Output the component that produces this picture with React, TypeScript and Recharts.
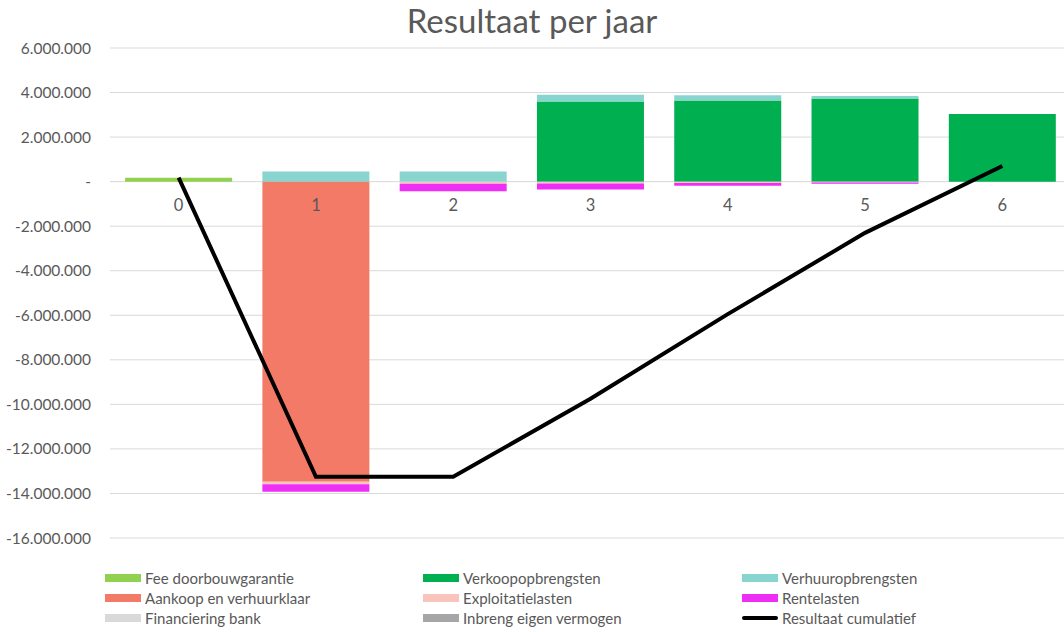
import React from 'react';
import { ComposedChart, Bar, Line, XAxis, YAxis, CartesianGrid, Legend, LabelList } from 'recharts';

const years = ['0', '1', '2', '3', '4', '5', '6'];
const fee = [180000, 0, 0, 0, 0, 0, 0];
const verkoop = [0, 0, 0, 3600000, 3640000, 3730000, 3040000];
const verhuur = [0, 450000, 450000, 300000, 240000, 120000, 0];
const aankoop = [0, -13470000, 0, 0, 0, 0, 0];
const exploitatie = [0, -120000, -100000, -80000, -60000, -40000, 0];
const rente = [0, -330000, -330000, -270000, -120000, -50000, 0];
const financiering = [0, 0, 0, 0, 0, 0, 0];
const inbreng = [0, 0, 0, 0, 0, 0, 0];
const cumulatief = [180000, -13250000, -13250000, -9750000, -5950000, -2300000, 700000];
const yTicks = [6000000, 4000000, 2000000, 0, -2000000, -4000000, -6000000, -8000000, -10000000, -12000000, -14000000, -16000000];

const seriesNames = [
  'Fee doorbouwgarantie', 'Verkoopopbrengsten', 'Verhuuropbrengsten',
  'Aankoop en verhuurklaar', 'Exploitatielasten', 'Rentelasten',
  'Financiering bank', 'Inbreng eigen vermogen', 'Resultaat cumulatief',
];
const seriesColors = ['#92D050', '#00B050', '#88D4CF', '#F47A68', '#F9C4BB', '#EE2DF7', '#D9D9D9', '#A6A6A6', '#000000'];

const data = years.map((y, i) => ({
  year: y,
  fee: fee[i],
  verkoop: verkoop[i],
  verhuur: verhuur[i],
  aankoop: aankoop[i],
  exploitatie: exploitatie[i],
  rente: rente[i],
  financiering: financiering[i],
  inbreng: inbreng[i],
  cumulatief: cumulatief[i],
  zero: 0,
}));

const FONT = 'Lato, "Open Sans", sans-serif';

const fmt = (v: number) => {
  if (v === 0) return '-';
  const s = Math.abs(v).toString().replace(/\B(?=(\d{3})+(?!\d))/g, '.');
  return (v < 0 ? '-' : '') + s;
};

const colLeft = [105, 423, 742];

const renderLegend = (props: any) => {
  const payload = (props.payload || []).filter((p: any) => seriesNames.includes(p.value));
  return (
    <div style={{ position: 'relative', width: 1064, height: 0, fontFamily: FONT }}>
      {payload.map((p: any) => {
        const idx = seriesNames.indexOf(p.value);
        const col = idx % 3;
        const row = Math.floor(idx / 3);
        const isLine = p.type === 'line' || idx === 8;
        return (
          <div
            key={p.value}
            style={{
              position: 'absolute',
              left: colLeft[col],
              top: row * 20,
              display: 'flex',
              alignItems: 'center',
              height: 20,
              whiteSpace: 'nowrap',
            }}
          >
            <div
              style={{
                width: 36,
                height: isLine ? 4 : 8,
                borderRadius: isLine ? 2 : 0,
                background: seriesColors[idx],
                marginRight: 4,
              }}
            />
            <span style={{ fontSize: 15, color: '#595959' }}>{p.value}</span>
          </div>
        );
      })}
    </div>
  );
};

export default function App() {
  return (
    <div style={{ position: 'absolute', left: 0, top: 0, width: 1064, height: 632, background: '#fff', fontFamily: FONT, overflow: 'hidden' }}>
      <div
        style={{
          position: 'absolute',
          left: 0,
          top: 0,
          width: 1064,
          textAlign: 'center',
          fontSize: 33,
          color: '#595959',
        }}
      >
        Resultaat per jaar
      </div>
      <ComposedChart
        width={1064}
        height={632}
        data={data}
        stackOffset="sign"
        margin={{ top: 48, right: -7, left: 0, bottom: 94 }}
        barCategoryGap="11%"
      >
        <CartesianGrid vertical={false} stroke="#D9D9D9" strokeWidth={1} />
        <XAxis dataKey="year" hide />
        <YAxis
          domain={[-16000000, 6000000]}
          ticks={yTicks}
          tickFormatter={fmt}
          axisLine={false}
          tickLine={false}
          width={110}
          tick={{ fill: '#595959', fontSize: 15.5, fontFamily: FONT }}
          tickMargin={13}
          interval={0}
        />
        <Bar dataKey="fee" name={seriesNames[0]} stackId="a" fill={seriesColors[0]} isAnimationActive={false} />
        <Bar dataKey="verkoop" name={seriesNames[1]} stackId="a" fill={seriesColors[1]} isAnimationActive={false} />
        <Bar dataKey="verhuur" name={seriesNames[2]} stackId="a" fill={seriesColors[2]} isAnimationActive={false} />
        <Bar dataKey="aankoop" name={seriesNames[3]} stackId="a" fill={seriesColors[3]} isAnimationActive={false} />
        <Bar dataKey="exploitatie" name={seriesNames[4]} stackId="a" fill={seriesColors[4]} isAnimationActive={false} />
        <Bar dataKey="rente" name={seriesNames[5]} stackId="a" fill={seriesColors[5]} isAnimationActive={false} />
        <Bar dataKey="financiering" name={seriesNames[6]} stackId="a" fill={seriesColors[6]} isAnimationActive={false} />
        <Bar dataKey="inbreng" name={seriesNames[7]} stackId="a" fill={seriesColors[7]} isAnimationActive={false} />
        <Line
          dataKey="zero"
          stroke="none"
          dot={false}
          activeDot={false}
          legendType="none"
          isAnimationActive={false}
        >
          <LabelList dataKey="year" position="bottom" offset={18} fill="#595959" fontSize={16.5} fontFamily={FONT} />
        </Line>
        <Line
          dataKey="cumulatief"
          name={seriesNames[8]}
          type="linear"
          stroke="#000000"
          strokeWidth={4}
          dot={false}
          activeDot={false}
          isAnimationActive={false}
          legendType="line"
        />
        <Legend
          content={renderLegend}
          verticalAlign="bottom"
          wrapperStyle={{ position: 'absolute', left: 0, top: 568, width: 1064, height: 0 }}
        />
      </ComposedChart>
    </div>
  );
}
